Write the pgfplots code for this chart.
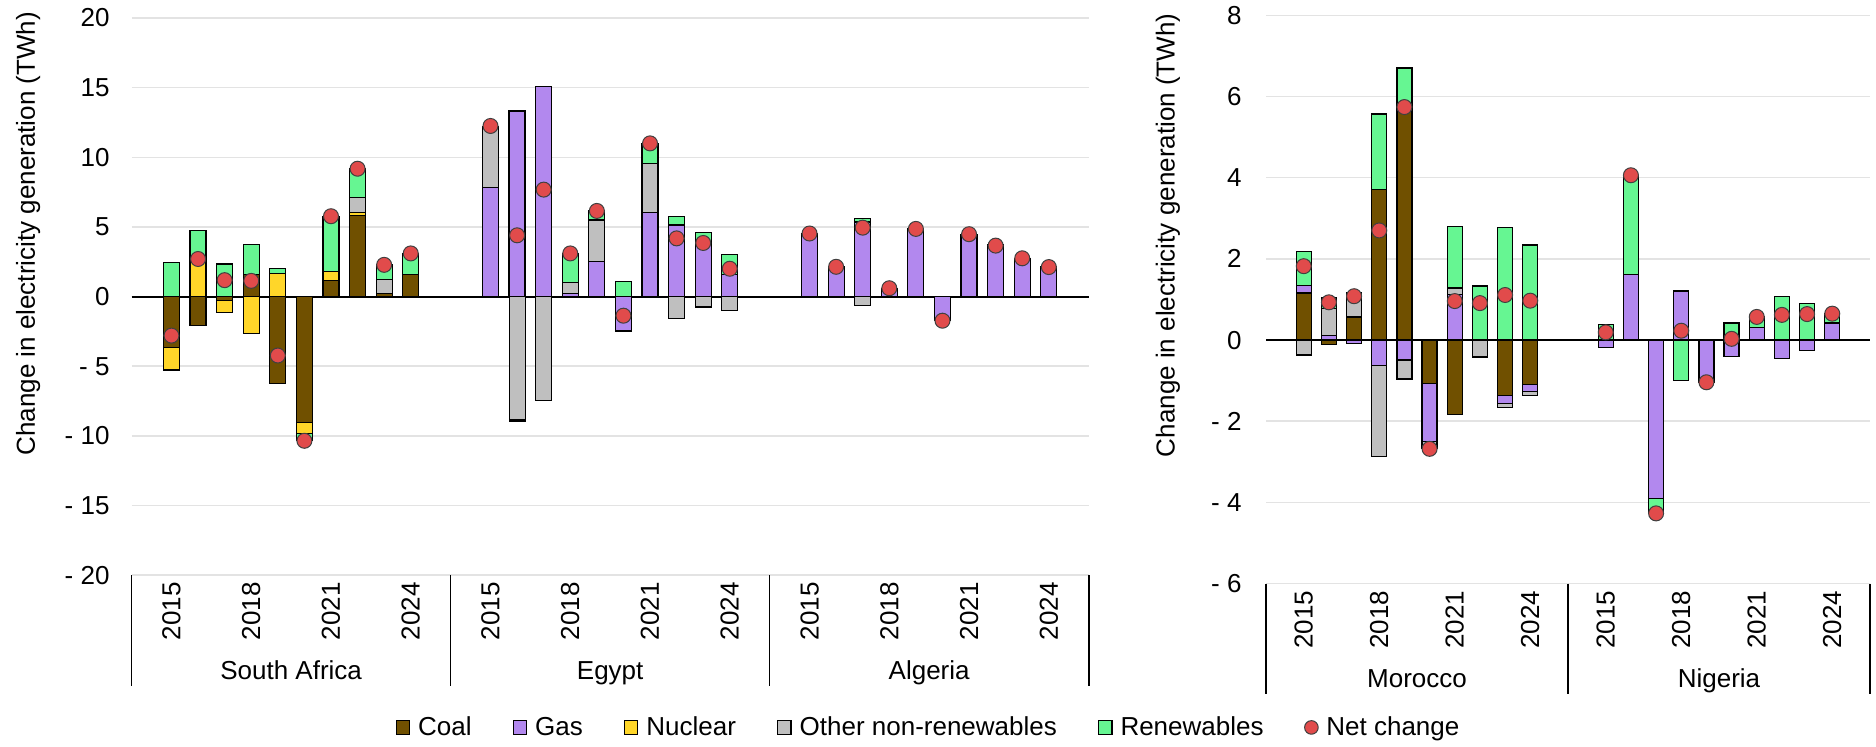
\documentclass[border=0pt]{standalone}
\usepackage{fontspec}
\setmainfont{Liberation Sans}
\usepackage{pgfplots}
\usepackage{pgfplotstable}
\pgfplotsset{compat=1.18}

\definecolor{coal}{RGB}{112,80,0}
\definecolor{gas}{RGB}{178,136,238}
\definecolor{nuc}{RGB}{255,214,41}
\definecolor{oth}{RGB}{191,191,191}
\definecolor{ren}{RGB}{102,246,146}
\definecolor{netred}{RGB}{225,75,75}

% x = slot (12 slots per country, years 2015-2024 in slots 1-10)
\pgfplotstableread{
x   coal   gas    nuc    oth    ren    net
1   -3.65  0      -1.62  0      2.45   -2.80
2   -2.06  0      2.80   0      1.93   2.70
3   -0.30  0      -0.85  0      2.34   1.18
4   1.57   0      -2.66  0      2.19   1.13
5   -6.26  0      1.65   0      0.35   -4.23
6   -9.01  0      -0.82  0      -0.47  -10.35
7   1.15   0      0.63   0      3.98   5.77
8   5.82   0      0.22   1.07   2.08   9.18
9   0.25   0      0      0.99   1.04   2.28
10  1.57   0      0      0      1.53   3.10
13  0      7.83   0      4.40   0      12.25
14  0      13.32  0      -8.83  -0.10  4.40
15  0      15.11  0      -7.45  0      7.68
16  0      0.25   0      0.77   2.08   3.10
17  0      2.50   0      3.00   0.66   6.15
18  0      -2.47  0      0      1.10   -1.37
19  0      6.04   0      3.49   1.46   11.00
20  0      5.14   0      -1.59  0.63   4.18
21  0      3.90   0      -0.74  0.69   3.85
22  0      1.57   0      -1.02  1.45   2.00
25  0      4.53   0      0      0      4.53
26  0      2.14   0      0      0      2.14
27  0      5.35   0      -0.65  0.25   4.95
28  0      0.60   0      0      0      0.60
29  0      4.86   0      0      0      4.86
30  0      -1.73  0      0      0      -1.73
31  0      4.48   0      0      0      4.48
32  0      3.71   0      -0.05  0      3.66
33  0      2.75   0      0      0      2.75
34  0      2.12   0      0      0      2.12
}\leftdata

\pgfplotstableread{
x   coal   gas    nuc    oth    ren    net
1   1.16   0.19   0      -0.37  0.84   1.82
2   -0.11  0.12   0      0.66   0.26   0.93
3   0.57   -0.08  0      0.59   0      1.08
4   3.71   -0.63  0      -2.24  1.86   2.70
5   5.64   -0.49  0      -0.47  1.06   5.74
6   -1.08  -1.41  0      -0.17  0      -2.68
7   -1.83  1.13   0      0.15   1.51   0.96
8   0      0      0      -0.42  1.33   0.91
9   -1.37  -0.19  0      -0.11  2.78   1.11
10  -1.10  -0.17  0      -0.10  2.34   0.97
13  0      -0.19  0      0      0.38   0.19
14  0      1.62   0      0      2.44   4.06
15  0      -3.91  0      0      -0.35  -4.27
16  0      1.21   0      0      -0.99  0.23
17  0      -1.04  0      0      0      -1.04
18  0      -0.40  0      0      0.42   0.03
19  0      0.31   0      0      0.26   0.57
20  0      -0.46  0      0      1.08   0.62
21  0      -0.25  0      0      0.90   0.64
22  0      0.42   0      0      0.22   0.65
}\rightdata

\pgfplotsset{
  chartfont/.style={font=\fontsize{13}{15}\selectfont},
  base/.style={scale only axis, enlargelimits=false, clip=false, chartfont},
  frameL/.style={base, at={(65.8pt,85.4pt)}, anchor=south west,
    width=478.55pt, height=278.6pt, xmin=-0.5, xmax=35.5, ymin=-20, ymax=20},
  frameR/.style={base, at={(633pt,81.2pt)}, anchor=south west,
    width=302pt, height=284.15pt, xmin=-0.5, xmax=23.5, ymin=-6, ymax=8},
  gridaxis/.style={axis line style={draw=none}, tick style={draw=none},
    ymajorgrids, grid style={gray!22, line width=0.8pt},
    extra y ticks={0}, extra y tick labels={},
    extra y tick style={grid style={black, line width=1pt}},
    xticklabel style={rotate=90, anchor=east},
    ylabel={Change in electricity generation (TWh)}},
  seg/.style={fill=#1, draw=black, line width=0.6pt,
    legend image code/.code={\draw[##1] (0pt,-3.35pt) rectangle (6.7pt,3.35pt);
      \path (9.2pt,0pt);}},
  netmark/.style={only marks, mark=*, mark size=3.75pt,
    mark options={fill=netred, draw=black!75, line width=0.5pt}},
  netleg/.style={only marks, mark=*, mark size=3.4pt,
    mark options={fill=netred, draw=black!75, line width=0.5pt},
    legend image code/.code={\draw[##1] plot coordinates {(3.4pt,0pt)};
      \path (9.2pt,0pt);}},
}

\begin{document}
\begin{tikzpicture}
\useasboundingbox (0,0) rectangle (938pt,373pt);

% ---- left panel: positive parts, grid and labels
\begin{axis}[frameL, gridaxis,
  ytick={-20,-15,...,20}, yticklabels={- 20,- 15,- 10,- 5,0,5,10,15,20},
  yticklabel style={xshift=-7.5pt},
  ylabel style={at={(axis description cs:-0.1082,0.613)}, anchor=center},
  xtick={1,4,7,10,13,16,19,22,25,28,31,34},
  xticklabels={2015,2018,2021,2024,2015,2018,2021,2024,2015,2018,2021,2024},
  ybar stacked, stacked ignores zero, bar width=8pt]
\addplot[seg=coal] table[x=x, y expr={max(\thisrow{coal},0)}] {\leftdata};
\addplot[seg=gas] table[x=x, y expr={max(\thisrow{gas},0)}] {\leftdata};
\addplot[seg=nuc] table[x=x, y expr={max(\thisrow{nuc},0)}] {\leftdata};
\addplot[seg=oth] table[x=x, y expr={max(\thisrow{oth},0)}] {\leftdata};
\addplot[seg=ren] table[x=x, y expr={max(\thisrow{ren},0)}] {\leftdata};
\node[anchor=base, yshift=-52pt] at (axis cs:5.5,-20) {South Africa};
\node[anchor=base, yshift=-52pt] at (axis cs:17.5,-20) {Egypt};
\node[anchor=base, yshift=-52pt] at (axis cs:29.5,-20) {Algeria};
\draw[line width=0.8pt] (axis cs:-0.5,-20) -- ++(0pt,-55.5pt);
\draw[line width=0.8pt] (axis cs:11.5,-20) -- ++(0pt,-55.5pt);
\draw[line width=0.8pt] (axis cs:23.5,-20) -- ++(0pt,-55.5pt);
\draw[line width=0.8pt] (axis cs:35.5,-20) -- ++(0pt,-55.5pt);
\end{axis}

% ---- left panel: negative parts and legend
\begin{axis}[frameL, hide axis, ybar stacked, stacked ignores zero, bar width=8pt,
  legend columns=-1,
  legend style={at={(0.8331,-0.2732)}, anchor=center, draw=none, fill=none,
    font=\fontsize{13}{15}\selectfont, nodes={inner xsep=1.5pt},
    /tikz/every even column/.append style={column sep=19pt}}]
\addplot[seg=coal] table[x=x, y expr={min(\thisrow{coal},0)}] {\leftdata};
\addplot[seg=gas] table[x=x, y expr={min(\thisrow{gas},0)}] {\leftdata};
\addplot[seg=nuc] table[x=x, y expr={min(\thisrow{nuc},0)}] {\leftdata};
\addplot[seg=oth] table[x=x, y expr={min(\thisrow{oth},0)}] {\leftdata};
\addplot[seg=ren] table[x=x, y expr={min(\thisrow{ren},0)}] {\leftdata};
\addlegendimage{netleg}
\legend{Coal, Gas, Nuclear, Other non-renewables, Renewables, Net change}
\end{axis}

% ---- left panel: net change
\begin{axis}[frameL, hide axis]
\addplot[netmark] table[x=x, y=net] {\leftdata};
\end{axis}

% ---- right panel: positive parts, grid and labels
\begin{axis}[frameR, gridaxis,
  ytick={-6,-4,...,8}, yticklabels={- 6,- 4,- 2,0,2,4,6,8},
  yticklabel style={xshift=-8.7pt},
  ylabel style={at={(axis description cs:-0.1623,0.613)}, anchor=center},
  xtick={1,4,7,10,13,16,19,22},
  xticklabels={2015,2018,2021,2024,2015,2018,2021,2024},
  ybar stacked, stacked ignores zero, bar width=7.5pt]
\addplot[seg=coal] table[x=x, y expr={max(\thisrow{coal},0)}] {\rightdata};
\addplot[seg=gas] table[x=x, y expr={max(\thisrow{gas},0)}] {\rightdata};
\addplot[seg=nuc] table[x=x, y expr={max(\thisrow{nuc},0)}] {\rightdata};
\addplot[seg=oth] table[x=x, y expr={max(\thisrow{oth},0)}] {\rightdata};
\addplot[seg=ren] table[x=x, y expr={max(\thisrow{ren},0)}] {\rightdata};
\node[anchor=base, yshift=-51.7pt] at (axis cs:5.5,-6) {Morocco};
\node[anchor=base, yshift=-51.7pt] at (axis cs:17.5,-6) {Nigeria};
\draw[line width=0.8pt] (axis cs:-0.5,-6) -- ++(0pt,-55pt);
\draw[line width=0.8pt] (axis cs:11.5,-6) -- ++(0pt,-55pt);
\draw[line width=0.8pt] (axis cs:23.5,-6) -- ++(0pt,-55pt);
\end{axis}

% ---- right panel: negative parts
\begin{axis}[frameR, hide axis, ybar stacked, stacked ignores zero, bar width=7.5pt]
\addplot[seg=coal] table[x=x, y expr={min(\thisrow{coal},0)}] {\rightdata};
\addplot[seg=gas] table[x=x, y expr={min(\thisrow{gas},0)}] {\rightdata};
\addplot[seg=nuc] table[x=x, y expr={min(\thisrow{nuc},0)}] {\rightdata};
\addplot[seg=oth] table[x=x, y expr={min(\thisrow{oth},0)}] {\rightdata};
\addplot[seg=ren] table[x=x, y expr={min(\thisrow{ren},0)}] {\rightdata};
\end{axis}

% ---- right panel: net change
\begin{axis}[frameR, hide axis]
\addplot[netmark] table[x=x, y=net] {\rightdata};
\end{axis}
\end{tikzpicture}
\end{document}
